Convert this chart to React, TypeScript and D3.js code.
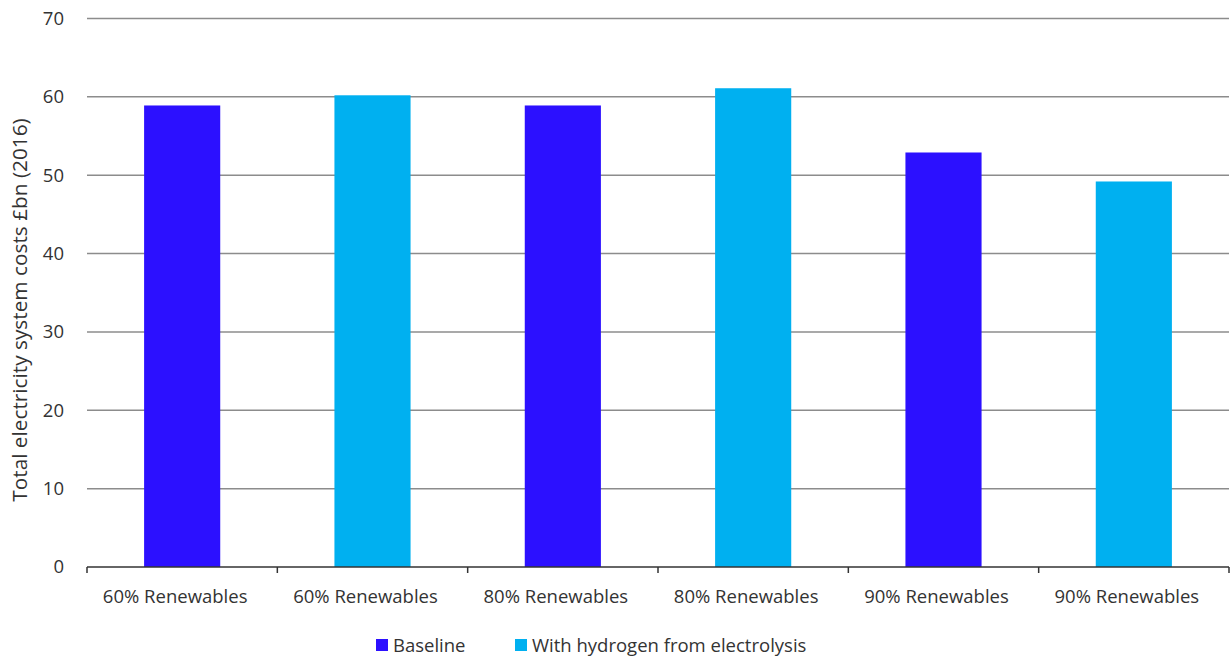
import React from "react";
import * as d3 from "d3";

const categories = ["60% Renewables", "60% Renewables", "80% Renewables", "80% Renewables", "90% Renewables", "90% Renewables"];
const values = [58.9, 60.2, 58.9, 61.1, 52.9, 49.2];
const seriesOf = ["Baseline", "With hydrogen from electrolysis", "Baseline", "With hydrogen from electrolysis", "Baseline", "With hydrogen from electrolysis"];
const seriesNames = ["Baseline", "With hydrogen from electrolysis"];
const seriesColors = ["#2c10ff", "#00b0f0"];
const yTicks = [0, 10, 20, 30, 40, 50, 60, 70];
const yTitle = "Total electricity system costs £bn (2016)";

export default function App() {
  const W = 1231, H = 657;
  const left = 87, right = 1229, top = 18.5, bottom = 567;
  const x = d3.scaleBand<number>().domain(d3.range(categories.length)).range([left, right]).padding(0);
  const y = d3.scaleLinear().domain([0, 70]).range([bottom, top]);
  const color = d3.scaleOrdinal<string, string>().domain(seriesNames).range(seriesColors);
  const bw = x.bandwidth() * 0.4;
  const font = "'Open Sans', 'Noto Sans', sans-serif";
  const txt = "#333333";
  const legendX = [376, 515];
  return (
    <svg width={W} height={H} style={{ position: "absolute", left: 0, top: 0, fontFamily: font }}>
      <rect width={W} height={H} fill="#fff" />
      {yTicks.filter(t => t > 0).map(t => (
        <line key={t} x1={left} x2={right} y1={y(t)} y2={y(t)} stroke="#8c8c8c" strokeWidth={1.5} />
      ))}
      {yTicks.map(t => (
        <text key={t} x={64} y={y(t)} dy="0.35em" textAnchor="end" fontSize={18.5} fill={txt}>{t}</text>
      ))}
      {values.map((v, i) => (
        <rect key={i} x={x(i)! + (x.bandwidth() - bw) / 2} y={y(v)} width={bw} height={y(0) - y(v)} fill={color(seriesOf[i])} />
      ))}
      <line x1={left} x2={right} y1={bottom} y2={bottom} stroke="#333" strokeWidth={1.5} />
      {d3.range(categories.length + 1).map(i => {
        const xx = i < categories.length ? x(i)! : right;
        return <line key={i} x1={xx} x2={xx} y1={bottom} y2={bottom + 6} stroke="#333" strokeWidth={1.5} />;
      })}
      {categories.map((c, i) => (
        <text key={i} x={x(i)! + x.bandwidth() / 2 - 7} y={603} textAnchor="middle" fontSize={18.5} fill={txt}>{c}</text>
      ))}
      <text transform={`translate(27, 310) rotate(-90)`} textAnchor="middle" fontSize={20.8} fill={txt}>{yTitle}</text>
      {seriesNames.map((s, i) => (
        <g key={s}>
          <rect x={legendX[i]} y={639} width={12} height={12} fill={color(s)} />
          <text x={legendX[i] + 17} y={652} fontSize={18.5} fill={txt}>{s}</text>
        </g>
      ))}
    </svg>
  );
}
